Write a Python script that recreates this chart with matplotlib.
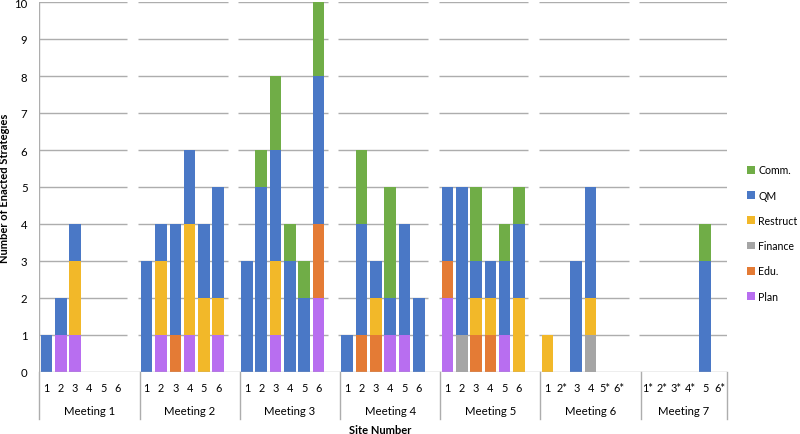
import matplotlib
matplotlib.use("Agg")
import matplotlib.pyplot as plt
import matplotlib.transforms as mtransforms
import numpy as np

plt.rcParams['font.family'] = ['Lato', 'DejaVu Sans']

# dados: 7 reuniões x 6 locais
reunioes = ['Meeting 1', 'Meeting 2', 'Meeting 3', 'Meeting 4', 'Meeting 5', 'Meeting 6', 'Meeting 7']
locais = [
    ['1', '2', '3', '4', '5', '6'],
    ['1', '2', '3', '4', '5', '6'],
    ['1', '2', '3', '4', '5', '6'],
    ['1', '2', '3', '4', '5', '6'],
    ['1', '2', '3', '4', '5', '6'],
    ['1', '2*', '3', '4', '5*', '6*'],
    ['1*', '2*', '3*', '4*', '5', '6*'],
]

plan     = [0, 1, 1, 0, 0, 0,  0, 1, 0, 1, 0, 1,  0, 0, 1, 0, 0, 2,  0, 0, 0, 1, 1, 0,  2, 0, 0, 0, 1, 0,  0, 0, 0, 0, 0, 0,  0, 0, 0, 0, 0, 0]
edu      = [0, 0, 0, 0, 0, 0,  0, 0, 1, 0, 0, 0,  0, 0, 0, 0, 0, 2,  0, 1, 1, 0, 0, 0,  1, 0, 1, 1, 0, 0,  0, 0, 0, 0, 0, 0,  0, 0, 0, 0, 0, 0]
finance  = [0, 0, 0, 0, 0, 0,  0, 0, 0, 0, 0, 0,  0, 0, 0, 0, 0, 0,  0, 0, 0, 0, 0, 0,  0, 1, 0, 0, 0, 0,  0, 0, 0, 1, 0, 0,  0, 0, 0, 0, 0, 0]
restruct = [0, 0, 2, 0, 0, 0,  0, 2, 0, 3, 2, 1,  0, 0, 2, 0, 0, 0,  0, 0, 1, 0, 0, 0,  0, 0, 1, 1, 0, 2,  1, 0, 0, 1, 0, 0,  0, 0, 0, 0, 0, 0]
qm       = [1, 1, 1, 0, 0, 0,  3, 1, 3, 2, 2, 3,  3, 5, 3, 3, 2, 4,  1, 3, 1, 1, 3, 2,  2, 4, 1, 1, 2, 2,  0, 0, 3, 3, 0, 0,  0, 0, 0, 0, 3, 0]
comm     = [0, 0, 0, 0, 0, 0,  0, 0, 0, 0, 0, 0,  0, 1, 2, 1, 1, 2,  0, 2, 0, 3, 0, 0,  0, 0, 2, 0, 1, 1,  0, 0, 0, 0, 0, 0,  0, 0, 0, 0, 1, 0]

series = [
    ('Plan', plan, '#B86EF0'),
    ('Edu.', edu, '#E47B35'),
    ('Finance', finance, '#A5A5A5'),
    ('Restruct', restruct, '#F2B829'),
    ('QM', qm, '#4A78C6'),
    ('Comm.', comm, '#70AD47'),
]

cinza = '#ADADAD'
n_locais = 6
passo = n_locais + 1  # uma categoria vazia entre reuniões

# posições das barras (categoria vazia entre grupos)
x = np.array([passo * g + s for g in range(len(reunioes)) for s in range(n_locais)])

fig = plt.figure(figsize=(8, 4.35), dpi=100)
ax = fig.add_axes([39.3 / 800, 1 - 373 / 435, (726.6 - 39.3) / 800, 370 / 435])

base = np.zeros(len(x))
handles = []
for nome, valores, cor in series:
    v = np.array(valores, dtype=float)
    b = ax.bar(x, v, bottom=base, width=0.81, color=cor, linewidth=0, label=nome, zorder=3)
    handles.append(b)
    base += v

xmin_lim, xmax_lim = -0.5, passo * (len(reunioes) - 1) + n_locais - 0.5
ax.set_xlim(xmin_lim, xmax_lim)
ax.set_ylim(0, 10)

# linhas de grade interrompidas entre grupos
ini = [max(passo * g - 0.62, xmin_lim) for g in range(len(reunioes))]
fim = [min(passo * g + 5.65, xmax_lim) for g in range(len(reunioes))]
for yv in range(1, 11):
    ax.hlines([yv] * len(ini), ini, fim, color=cinza, linewidth=1, zorder=1)
ax.axhline(0, color=cinza, linewidth=1, zorder=4)
ax.axvline(xmin_lim, color=cinza, linewidth=1, zorder=4)

for sp in ax.spines.values():
    sp.set_visible(False)

ax.set_yticks(range(0, 11))
ax.tick_params(axis='y', length=0, pad=8.5, labelsize=8.2)

rotulos = [r for grupo in locais for r in grupo]
ax.set_xticks(x)
ax.set_xticklabels(rotulos)
ax.tick_params(axis='x', length=0, pad=7, labelsize=7.8)

trans = mtransforms.blended_transform_factory(ax.transData, ax.transAxes)
# separadores verticais do eixo de categorias
separadores = [passo * g - 0.5 for g in range(len(reunioes))] + [xmax_lim]
for sx in separadores:
    ax.plot([sx, sx], [0, -0.127], color=cinza, linewidth=1, transform=trans, clip_on=False)

for g, nome in enumerate(reunioes):
    centro = (separadores[g] + separadores[g + 1]) / 2
    ax.text(centro, -0.105, nome, transform=trans, ha='center', va='center', fontsize=8.2)

ax.text((xmin_lim + xmax_lim) / 2 - 0.2, -0.155, 'Site Number', transform=trans,
        ha='center', va='center', fontsize=8, fontweight='bold')
ax.set_ylabel('Number of Enacted Strategies', fontsize=8, fontweight='bold', labelpad=3)

fig.legend(handles[::-1], [s[0] for s in series][::-1], loc='center left',
           bbox_to_anchor=(747 / 800, 1 - 234 / 435), frameon=False, fontsize=7.6,
           handlelength=0.75, handleheight=0.75, handletextpad=0.3, labelspacing=1.35,
           borderpad=0, borderaxespad=0)

fig.savefig('out.png', dpi=100)
